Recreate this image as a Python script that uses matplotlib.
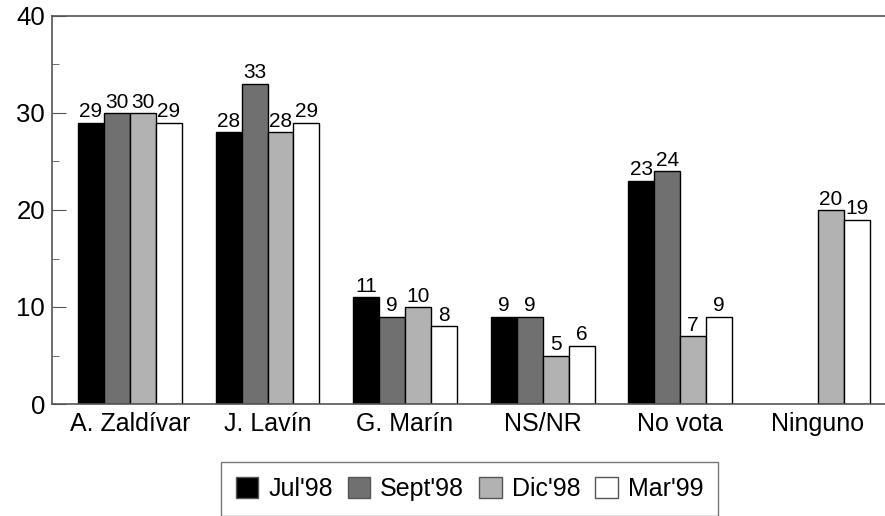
import numpy as np
import matplotlib.pyplot as plt
from matplotlib.ticker import MultipleLocator

plt.rcParams['font.family'] = ['Liberation Sans', 'DejaVu Sans']

# data
categories = ["A. Zaldívar", "J. Lavín", "G. Marín", "NS/NR", "No vota", "Ninguno"]
series = ["Jul'98", "Sept'98", "Dic'98", "Mar'99"]
jul98 = [29, 28, 11, 9, 23, np.nan]
sept98 = [30, 33, 9, 9, 24, np.nan]
dic98 = [30, 28, 10, 5, 7, 20]
mar99 = [29, 29, 8, 6, 9, 19]
values = [jul98, sept98, dic98, mar99]
colors = ["#000000", "#707070", "#b2b2b2", "#ffffff"]

fig = plt.figure(figsize=(8.85, 5.16), dpi=100)
ax = fig.add_axes([52/885, 1 - 404/516, (885 - 52)/885, (404 - 16)/516])

x = np.arange(len(categories))
w = 0.189
handles = []
for i, (vals, c, name) in enumerate(zip(values, colors, series)):
    pos = x + (i - 1.5) * w
    bars = ax.bar(pos, vals, width=w, color=c, edgecolor="#000000",
                  linewidth=1.0, label=name)
    handles.append(bars)
    for p, v in zip(pos, vals):
        if not np.isnan(v):
            ax.text(p, v + 0.15, f"{v:g}", ha="center", va="bottom",
                    fontsize=15)

ax.set_ylim(0, 40)
ax.set_xlim(-0.567, 5.49)
ax.yaxis.set_major_locator(MultipleLocator(10))
ax.yaxis.set_minor_locator(MultipleLocator(5))
ax.tick_params(axis="y", which="major", direction="in", length=10,
               labelsize=18.5, color="#555555", pad=5)
ax.tick_params(axis="y", which="minor", direction="in", length=5,
               color="#555555")
ax.set_xticks(x)
ax.set_xticklabels(categories, fontsize=18)
ax.tick_params(axis="x", length=0, pad=6)

for s in ["left", "bottom", "top"]:
    ax.spines[s].set_color("#555555")
    ax.spines[s].set_linewidth(1.2)
ax.spines["right"].set_visible(False)

leg = fig.legend(handles=handles, labels=series, loc="lower center",
                 bbox_to_anchor=(469.5/885, -0.025), ncol=4, fontsize=18,
                 frameon=True, fancybox=False, edgecolor="#555555",
                 handlelength=0.9, handleheight=0.9, handletextpad=0.4,
                 columnspacing=0.6, borderpad=0.6)
leg.get_frame().set_linewidth(1.0)
for h in leg.legend_handles:
    h.set_edgecolor("#555555")

fig.savefig("out.png", dpi=100)
